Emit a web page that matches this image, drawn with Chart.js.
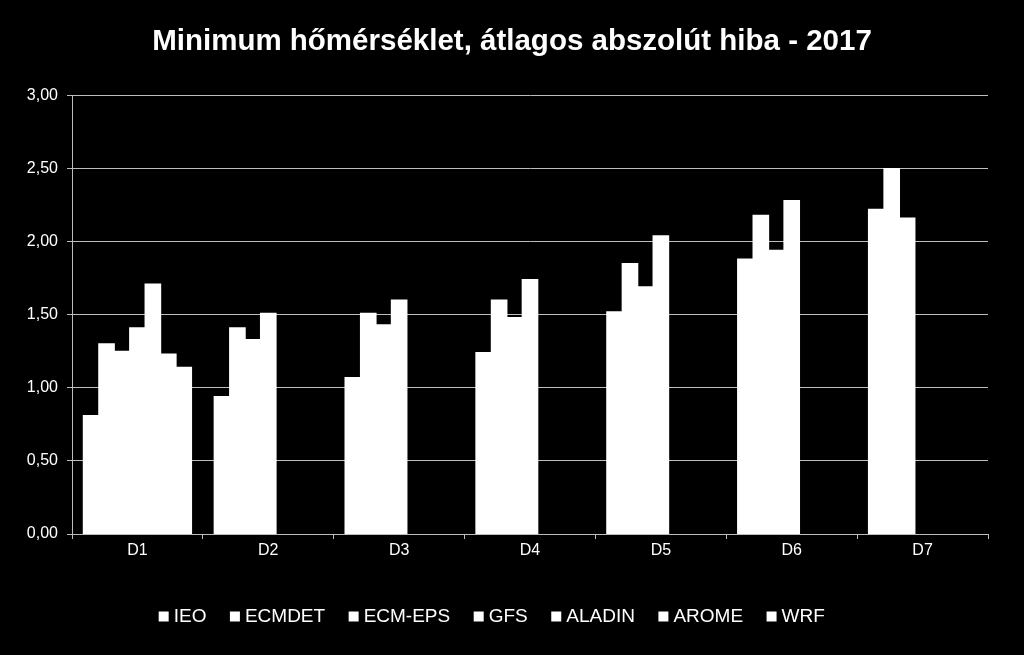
<!DOCTYPE html>
<html>
<head>
<meta charset="utf-8">
<script src="https://cdn.jsdelivr.net/npm/chart.js@4"></script>
<style>
  html, body { margin: 0; padding: 0; background: #000; }
  canvas { display: block; }
</style>
</head>
<body>
<canvas id="hibaChart" width="1024" height="655"></canvas>
<script>
const napok = ["D1", "D2", "D3", "D4", "D5", "D6", "D7"];
const modellek = ["IEO", "ECMDET", "ECM-EPS", "GFS", "ALADIN", "AROME", "WRF"];

const ieo = [0.81, 0.94, 1.07, 1.24, 1.52, 1.88, 2.22];
const ecmdet = [1.30, 1.41, 1.51, 1.60, 1.85, 2.18, 2.50];
const ecmEps = [1.25, 1.33, 1.43, 1.48, 1.69, 1.94, 2.16];
const gfs = [1.41, 1.51, 1.60, 1.74, 2.04, 2.28, null];
const aladin = [1.71, null, null, null, null, null, null];
const arome = [1.23, null, null, null, null, null, null];
const wrf = [1.14, null, null, null, null, null, null];

const sorok = [ieo, ecmdet, ecmEps, gfs, aladin, arome, wrf];

const ctx = document.getElementById("hibaChart").getContext("2d");
const fontFamily = "'Liberation Sans', Arial, sans-serif";
const gridColor = "#bdbdbd";

// the title should be centred on the whole canvas, not on the padded box
const titleCenter = {
  id: "titleCenter",
  afterLayout(chart) {
    if (chart.titleBlock) {
      chart.titleBlock.left = 0;
      chart.titleBlock.right = chart.width;
      chart.titleBlock.width = chart.width;
    }
  },
};

const data = {
  labels: napok,
  datasets: modellek.map((nev, i) => ({
    label: nev,
    data: sorok[i],
    backgroundColor: "#ffffff",
    borderWidth: 0,
    inflateAmount: 0.6,
    barPercentage: 1,
    categoryPercentage: 0.826,
  })),
};

const config = {
  type: "bar",
  data: data,
  plugins: [titleCenter],
  options: {
    responsive: false,
    animation: false,
    layout: {
      padding: { left: 0, right: 36, top: 0, bottom: 19 },
    },
    plugins: {
      title: {
        display: true,
        text: "Minimum hőmérséklet, átlagos abszolút hiba - 2017",
        color: "#ffffff",
        font: { family: fontFamily, size: 29.5, weight: "bold", lineHeight: 1.2 },
        padding: { top: 24, bottom: 36 },
      },
      legend: {
        position: "bottom",
        labels: {
          color: "#ffffff",
          font: { family: fontFamily, size: 19 },
          usePointStyle: true,
          pointStyle: "rect",
          boxWidth: 1,
          boxHeight: 10,
          padding: 28,
        },
      },
      tooltip: { enabled: false },
    },
    scales: {
      x: {
        grid: {
          offset: true,
          drawOnChartArea: false,
          drawTicks: true,
          tickLength: 5,
          color: gridColor,
        },
        border: { color: gridColor, width: 1 },
        ticks: {
          color: "#ffffff",
          font: { family: fontFamily, size: 16 },
          padding: 2,
        },
        afterFit: (scale) => {
          scale.height = 45;
        },
      },
      y: {
        min: 0,
        max: 3,
        grid: {
          color: gridColor,
          tickLength: 5,
        },
        border: { color: gridColor, width: 1 },
        ticks: {
          stepSize: 0.5,
          color: "#ffffff",
          font: { family: fontFamily, size: 16 },
          padding: 9,
          callback: (v) => v.toFixed(2).replace(".", ","),
        },
        afterFit: (scale) => {
          scale.width = 72;
        },
      },
    },
  },
};

new Chart(ctx, config);
</script>
</body>
</html>
